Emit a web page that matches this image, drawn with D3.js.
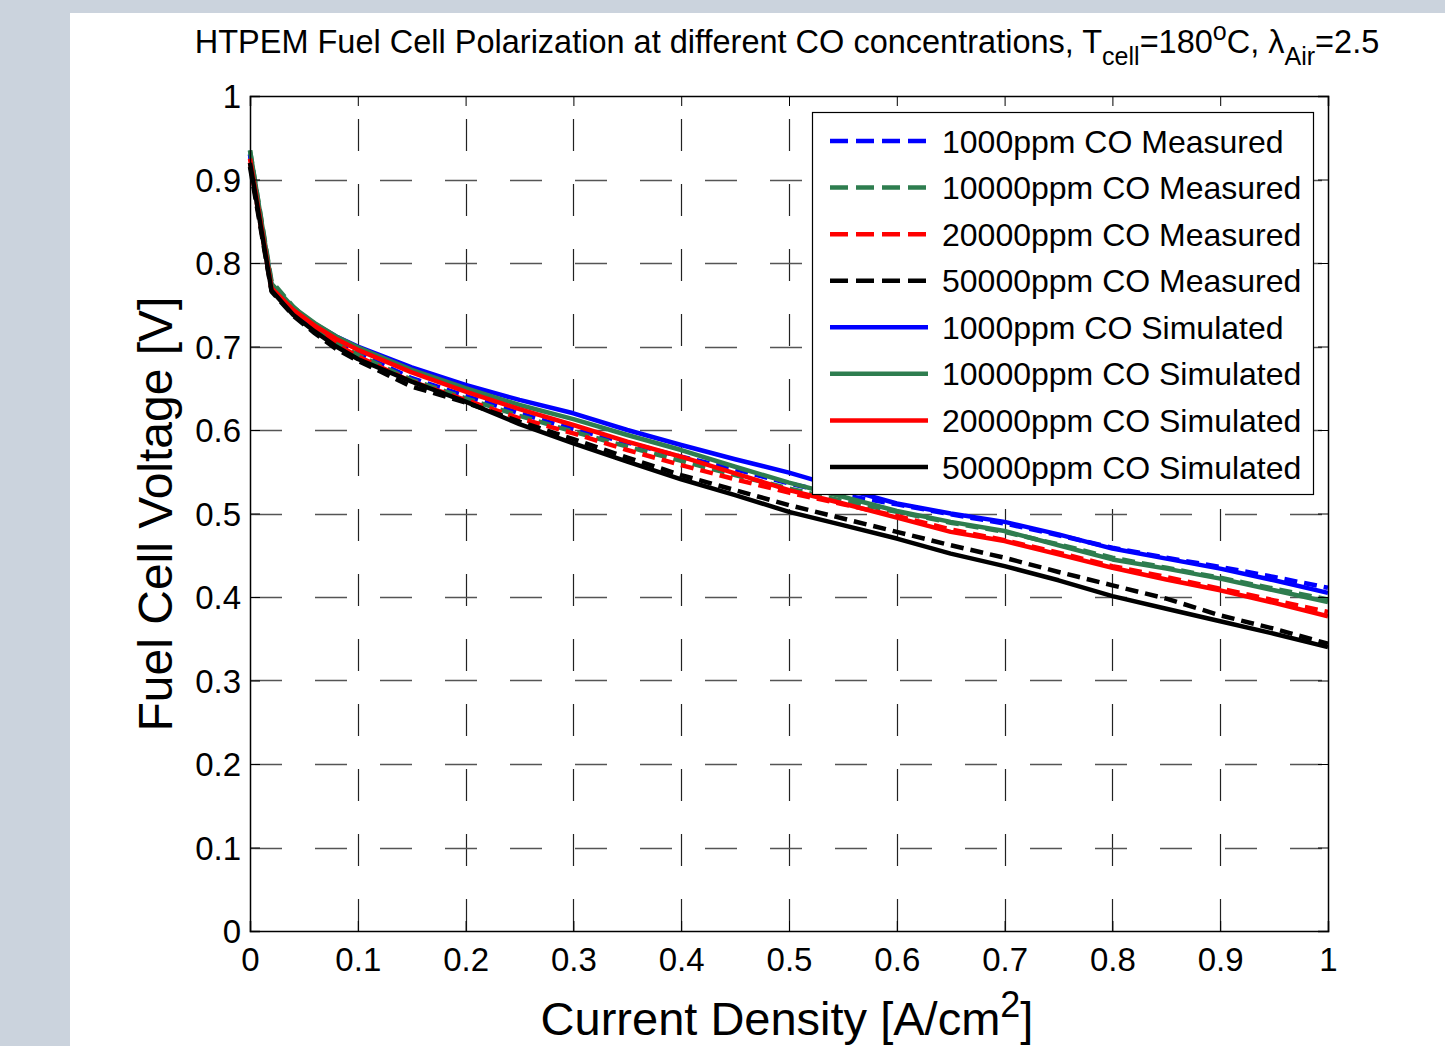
<!DOCTYPE html>
<html>
<head>
<meta charset="utf-8">
<script src="https://cdn.jsdelivr.net/npm/d3@7"></script>
<style>
  body { margin: 0; background: #fff; }
  svg { display: block; font-family: "Liberation Sans", Arial, sans-serif; }
</style>
</head>
<body>
<div id="chart-area"></div>
<script>
// current density [A/cm2]
var current = [0, 0.02, 0.04, 0.06, 0.08, 0.1, 0.15, 0.2, 0.25, 0.3, 0.35, 0.4, 0.45, 0.5,
               0.55, 0.6, 0.65, 0.7, 0.75, 0.8, 0.85, 0.9, 0.95, 1.0]

// measured voltages
var meas1000  = [0.930, 0.772, 0.742, 0.722, 0.705, 0.692, 0.662, 0.641, 0.620, 0.601, 0.585, 0.568, 0.553, 0.536, 0.522, 0.511, 0.499, 0.488, 0.474, 0.459, 0.447, 0.436, 0.424, 0.411]
var meas10000 = [0.935, 0.778, 0.748, 0.724, 0.704, 0.690, 0.660, 0.638, 0.617, 0.598, 0.580, 0.563, 0.546, 0.530, 0.515, 0.502, 0.489, 0.478, 0.463, 0.447, 0.435, 0.423, 0.410, 0.397]
var meas20000 = [0.920, 0.768, 0.740, 0.720, 0.703, 0.688, 0.658, 0.636, 0.614, 0.596, 0.576, 0.558, 0.541, 0.525, 0.511, 0.497, 0.481, 0.468, 0.453, 0.437, 0.424, 0.410, 0.396, 0.382]
var meas50000 = [0.915, 0.766, 0.737, 0.716, 0.697, 0.683, 0.652, 0.633, 0.610, 0.589, 0.567, 0.546, 0.528, 0.510, 0.494, 0.478, 0.462, 0.447, 0.430, 0.414, 0.398, 0.378, 0.362, 0.344]

// simulated voltages
var sim1000  = [0.930, 0.772, 0.745, 0.727, 0.712, 0.700, 0.675, 0.654, 0.636, 0.620, 0.600, 0.582, 0.565, 0.549, 0.530, 0.512, 0.500, 0.490, 0.475, 0.458, 0.446, 0.434, 0.420, 0.405]
var sim10000 = [0.935, 0.775, 0.747, 0.728, 0.712, 0.699, 0.672, 0.650, 0.630, 0.613, 0.594, 0.576, 0.556, 0.537, 0.520, 0.503, 0.490, 0.479, 0.462, 0.445, 0.434, 0.422, 0.408, 0.394]
var sim20000 = [0.925, 0.770, 0.744, 0.725, 0.709, 0.696, 0.669, 0.646, 0.625, 0.606, 0.586, 0.568, 0.548, 0.528, 0.512, 0.495, 0.478, 0.467, 0.451, 0.435, 0.421, 0.408, 0.393, 0.377]
var sim50000 = [0.920, 0.767, 0.738, 0.718, 0.700, 0.685, 0.658, 0.634, 0.607, 0.584, 0.562, 0.541, 0.522, 0.502, 0.486, 0.470, 0.452, 0.437, 0.420, 0.401, 0.386, 0.371, 0.356, 0.340]

var seriesNames = ["1000ppm CO Measured", "10000ppm CO Measured", "20000ppm CO Measured", "50000ppm CO Measured",
                   "1000ppm CO Simulated", "10000ppm CO Simulated", "20000ppm CO Simulated", "50000ppm CO Simulated"]
var seriesValues = [meas1000, meas10000, meas20000, meas50000, sim1000, sim10000, sim20000, sim50000]
var seriesColors = ["#0000ff", "#2e7d4f", "#ff0000", "#000000", "#0000ff", "#2e7d4f", "#ff0000", "#000000"]
var seriesDashed = [true, true, true, true, false, false, false, false]

var xTicks = [0, 0.1, 0.2, 0.3, 0.4, 0.5, 0.6, 0.7, 0.8, 0.9, 1]
var yTicks = [0, 0.1, 0.2, 0.3, 0.4, 0.5, 0.6, 0.7, 0.8, 0.9, 1]

var W = 1445, H = 1046
var plot = {left: 250, right: 1328, top: 96, bottom: 931}

var svg = d3.select("#chart-area")
          .append("svg")
          .attr("width", W)
          .attr("height", H)

// page background strips
svg.append("rect").attr("x", 0).attr("y", 0).attr("width", W).attr("height", H).attr("fill", "#cbd3dd")
svg.append("rect").attr("x", 70).attr("y", 13).attr("width", W - 70).attr("height", H - 13).attr("fill", "#fff")

var x = d3.scaleLinear().domain([0, 1]).range([plot.left, plot.right])
var y = d3.scaleLinear().domain([0, 1]).range([plot.bottom, plot.top])

var g = svg.append("g")

// grid (dashed, starting from left / bottom like matlab)
g.selectAll(".vgrid").data(xTicks.slice(1, -1)).enter()
  .append("line")
  .attr("class", "vgrid")
  .attr("x1", d => Math.round(x(d)) + 0.5).attr("x2", d => Math.round(x(d)) + 0.5)
  .attr("y1", plot.bottom).attr("y2", plot.top)
  .attr("stroke", "#222").attr("stroke-width", 1.2)
  .attr("stroke-dasharray", "32,33")
g.selectAll(".hgrid").data(yTicks.slice(1, -1)).enter()
  .append("line")
  .attr("class", "hgrid")
  .attr("x1", plot.left).attr("x2", plot.right)
  .attr("y1", d => Math.round(y(d)) + 0.5).attr("y2", d => Math.round(y(d)) + 0.5)
  .attr("stroke", "#555").attr("stroke-width", 1.4)
  .attr("stroke-dasharray", "32,33")

// series
var line = d3.line()
  .x((d, i) => x(current[i]))
  .y(d => y(d))

seriesValues.forEach(function(vals, i) {
  g.append("path")
    .datum(vals)
    .attr("d", line)
    .attr("fill", "none")
    .attr("stroke", seriesColors[i])
    .attr("stroke-width", 4.5)
    .attr("stroke-linejoin", "round")
    .attr("stroke-dasharray", seriesDashed[i] ? "13,7" : null)
})

// axes box
var bottomAxis = d3.axisBottom(x).tickValues(xTicks).tickSize(-10).tickPadding(16)
  .tickFormat(d3.format("~g"))
var leftAxis = d3.axisLeft(y).tickValues(yTicks).tickSize(-10).tickPadding(9)
  .tickFormat(d3.format("~g"))
var topAxis = d3.axisTop(x).tickValues(xTicks).tickSize(-10).tickFormat("")
var rightAxis = d3.axisRight(y).tickValues(yTicks).tickSize(-10).tickFormat("")

g.append("g").attr("class", "bottom axis").attr("transform", `translate(0, ${plot.bottom})`).call(bottomAxis)
g.append("g").attr("class", "left axis").attr("transform", `translate(${plot.left}, 0)`).call(leftAxis)
g.append("g").attr("class", "top axis").attr("transform", `translate(0, ${plot.top})`).call(topAxis)
g.append("g").attr("class", "right axis").attr("transform", `translate(${plot.right}, 0)`).call(rightAxis)

g.selectAll(".axis path").attr("stroke", "#000").attr("stroke-width", 1.5)
g.selectAll(".axis line").attr("stroke", "#000").attr("stroke-width", 1)
g.selectAll(".axis text")
  .attr("font-family", "Liberation Sans, Arial, sans-serif")
  .attr("font-size", "33px")
  .attr("fill", "#000")
g.selectAll(".left.axis text").attr("dy", "0.36em")
g.selectAll(".bottom.axis text").attr("dy", "0.72em")

// legend
var legend = g.append("g").attr("transform", "translate(812, 112)")
legend.append("rect")
  .attr("x", 0.5).attr("y", 0.5).attr("width", 501).attr("height", 382)
  .attr("fill", "#fff").attr("stroke", "#000").attr("stroke-width", 1.2)
var rowY = d3.scaleLinear().domain([0, 7]).range([29, 355])
seriesNames.forEach(function(name, i) {
  legend.append("line")
    .attr("x1", 18).attr("x2", 116)
    .attr("y1", rowY(i)).attr("y2", rowY(i))
    .attr("stroke", seriesColors[i])
    .attr("stroke-width", 4.5)
    .attr("stroke-dasharray", seriesDashed[i] ? "18,8" : null)
  legend.append("text")
    .attr("x", 130).attr("y", rowY(i))
    .attr("dy", "0.36em")
    .attr("font-size", "32px")
    .attr("fill", "#000")
    .text(name)
})

// title
var title = svg.append("text")
  .attr("x", 787).attr("y", 53)
  .attr("text-anchor", "middle")
  .attr("font-size", "32.5px")
  .attr("fill", "#000")
title.append("tspan").text("HTPEM Fuel Cell Polarization at different CO concentrations, T")
title.append("tspan").attr("dy", 12).attr("font-size", "25px").text("cell")
title.append("tspan").attr("dy", -12).text("=180")
title.append("tspan").attr("dy", -13).attr("font-size", "25px").text("o")
title.append("tspan").attr("dy", 13).text("C, λ")
title.append("tspan").attr("dy", 12).attr("font-size", "25px").text("Air")
title.append("tspan").attr("dy", -12).text("=2.5")

// axis labels
svg.append("text")
  .attr("x", -514)
  .attr("y", 172)
  .attr("transform", "rotate(-90)")
  .attr("text-anchor", "middle")
  .attr("font-size", "48px")
  .attr("fill", "#000")
  .text("Fuel Cell Voltage [V]")

var xl = svg.append("text")
  .attr("x", 787).attr("y", 1035)
  .attr("text-anchor", "middle")
  .attr("font-size", "47px")
  .attr("fill", "#000")
xl.append("tspan").text("Current Density [A/cm")
xl.append("tspan").attr("dy", -18).attr("font-size", "36px").text("2")
xl.append("tspan").attr("dy", 18).text("]")
</script>
</body>
</html>
